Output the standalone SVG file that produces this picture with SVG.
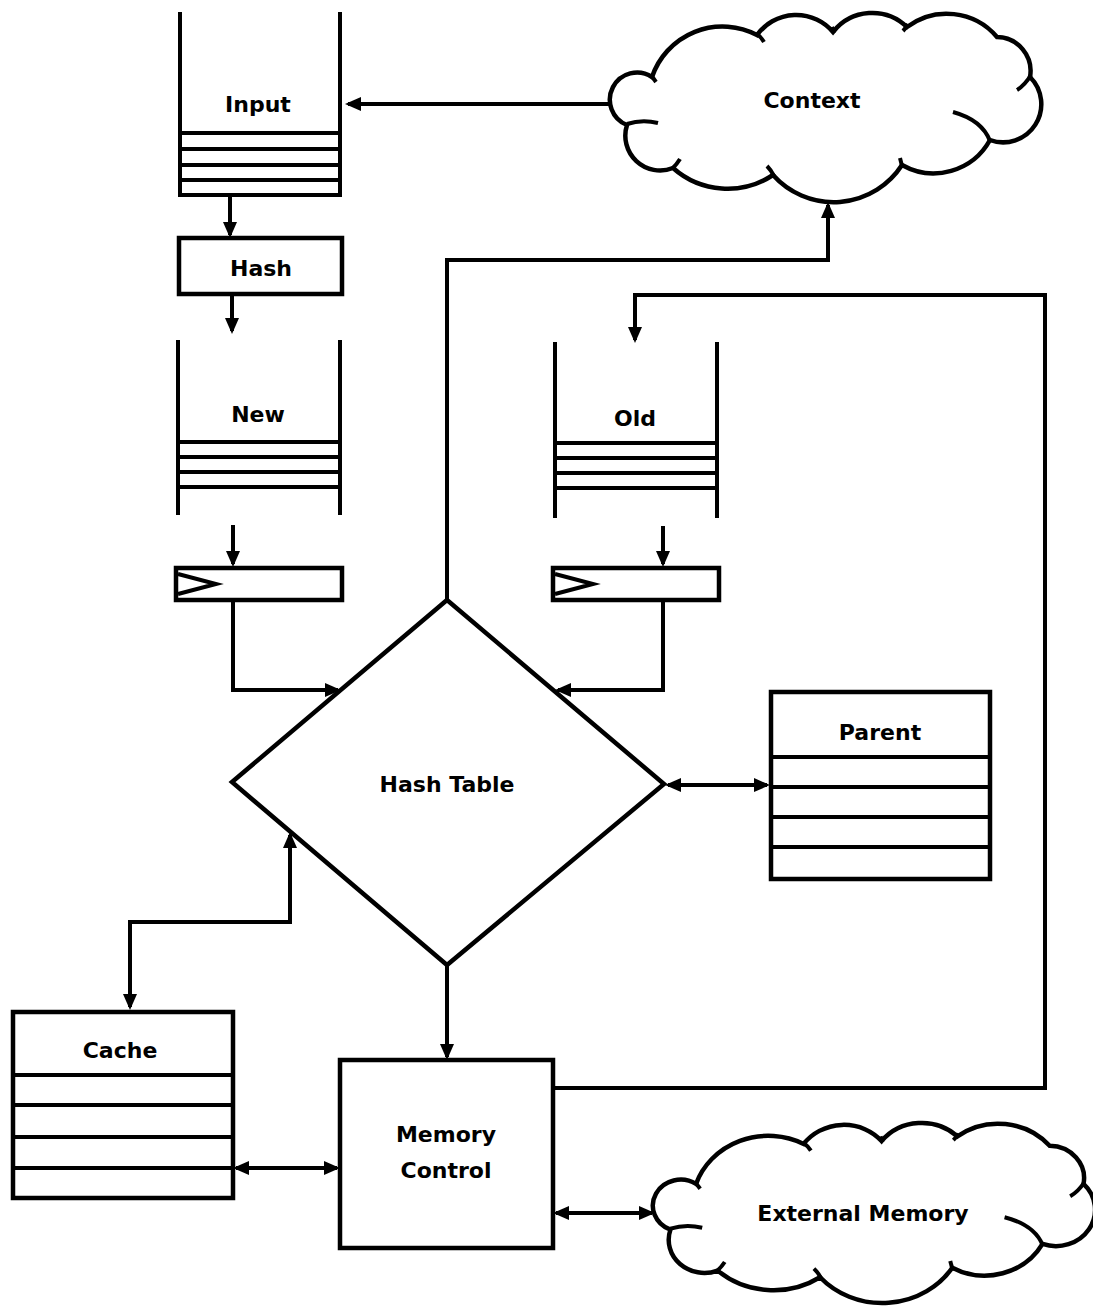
<svg xmlns="http://www.w3.org/2000/svg" width="1093" height="1308" viewBox="0 0 1093 1308">
<style>
.s{fill:none;stroke:#000;stroke-width:4}
.b{fill:#fff;stroke:#000;stroke-width:4.5}
.c{fill:none;stroke:#000;stroke-width:4}
.t{font-family:"DejaVu Sans","Liberation Sans",sans-serif;font-weight:bold;font-size:22px;text-anchor:middle;fill:#000}
.cl{fill:#fff;stroke:#000;stroke-width:4.5;vector-effect:non-scaling-stroke}
.tail{fill:none;stroke:#000;stroke-width:4;vector-effect:non-scaling-stroke}
</style>
<defs>
<marker id="ah" viewBox="0 0 16 14" refX="13" refY="7" markerWidth="16" markerHeight="14" markerUnits="userSpaceOnUse" orient="auto-start-reverse">
<path d="M0,0 L16,7 L0,14 z" fill="#000"/>
</marker>
<g id="cloudShape">
<path class="cl" d="M627,125 A27.2,27.2 0 1 1 652,77 A74.4,74.4 0 0 1 757,35 A48.3,48.3 0 0 1 833,32 A49.9,49.9 0 0 1 907,27 A66,66 0 0 1 997,37 A34,34 0 0 1 1030,77 A38.2,38.2 0 0 1 990,140 A64.4,64.4 0 0 1 902,165 A81.4,81.4 0 0 1 773,175 A82.3,82.3 0 0 1 673,168 A34.8,34.8 0 0 1 627,125 Z"/>
<path class="tail" d="M627,124 Q642,119 658,123"/>
<path class="tail" d="M651,75 L656,82"/>
<path class="tail" d="M756,33 Q761,37 764,42"/>
<path class="tail" d="M832,27 L834,33"/>
<path class="tail" d="M908,24 Q906,28 903,31"/>
<path class="tail" d="M1031,75 Q1025,85 1017,90"/>
<path class="tail" d="M953,112 Q982,120 990,141"/>
<path class="tail" d="M902,166 L900,158"/>
<path class="tail" d="M774,176 Q771,170 767,166"/>
<path class="tail" d="M672,169 Q677,164 680,159"/>
</g>
</defs>

<g id="connectors">
<line class="c" x1="612" y1="104" x2="348" y2="104" marker-end="url(#ah)"/>
<line class="c" x1="230" y1="195" x2="230" y2="235" marker-end="url(#ah)"/>
<line class="c" x1="232" y1="295" x2="232" y2="331" marker-end="url(#ah)"/>
<line class="c" x1="233" y1="525" x2="233" y2="564" marker-end="url(#ah)"/>
<line class="c" x1="663" y1="526" x2="663" y2="564" marker-end="url(#ah)"/>
<polyline class="c" points="233,600 233,690 338,690" marker-end="url(#ah)"/>
<polyline class="c" points="663,600 663,690 558,690" marker-end="url(#ah)"/>
<polyline class="c" points="447,600 447,260 828,260 828,205" marker-end="url(#ah)"/>
<polyline class="c" points="553,1088 1045,1088 1045,295 635,295 635,340" marker-end="url(#ah)"/>
<line class="c" x1="668" y1="785" x2="767" y2="785" marker-start="url(#ah)" marker-end="url(#ah)"/>
<polyline class="c" points="130,1007 130,922 290,922 290,835" marker-start="url(#ah)" marker-end="url(#ah)"/>
<line class="c" x1="447" y1="965" x2="447" y2="1057" marker-end="url(#ah)"/>
<line class="c" x1="236" y1="1168" x2="337" y2="1168" marker-start="url(#ah)" marker-end="url(#ah)"/>
<line class="c" x1="556" y1="1213" x2="652" y2="1213" marker-start="url(#ah)" marker-end="url(#ah)"/>
</g>

<g id="input">
<path class="s" d="M180,12 V195 M340,12 V195 M180,133 H340 M180,149 H340 M180,165 H340 M180,180 H340 M178,195 H342"/>
<text class="t" x="258" y="112">Input</text>
</g>

<g id="hash">
<rect class="b" x="179" y="238" width="163" height="56"/>
<text class="t" x="261" y="276">Hash</text>
</g>

<g id="new">
<path class="s" d="M178,340 V515 M340,340 V515 M178,442 H340 M178,457 H340 M178,472 H340 M178,487 H340"/>
<text class="t" x="258" y="422">New</text>
</g>

<g id="new-reg">
<rect class="b" x="176" y="568" width="166" height="32"/>
<polyline class="s" points="178,574 216,584 178,594"/>
</g>

<g id="old">
<path class="s" d="M555,342 V518 M717,342 V518 M555,443 H717 M555,458 H717 M555,473 H717 M555,488 H717"/>
<text class="t" x="635" y="426">Old</text>
</g>

<g id="old-reg">
<rect class="b" x="553" y="568" width="166" height="32"/>
<polyline class="s" points="555,574 593,584 555,594"/>
</g>

<g id="hash-table">
<polygon class="b" points="447,600 664,784 447,965 232,782"/>
<text class="t" x="447" y="792">Hash Table</text>
</g>

<g id="context">
<use href="#cloudShape"/>
<text class="t" x="812" y="108">Context</text>
</g>

<g id="parent">
<rect class="b" x="771" y="692" width="219" height="187"/>
<path class="s" d="M771,757 H990 M771,787 H990 M771,817 H990 M771,847 H990"/>
<text class="t" x="880" y="740">Parent</text>
</g>

<g id="cache">
<rect class="b" x="13" y="1012" width="220" height="186"/>
<path class="s" d="M13,1075 H233 M13,1105 H233 M13,1137 H233 M13,1168 H233"/>
<text class="t" x="120" y="1058">Cache</text>
</g>

<g id="memory-control">
<rect class="b" x="340" y="1060" width="213" height="188"/>
<text class="t" x="446" y="1142">Memory</text>
<text class="t" x="446" y="1178">Control</text>
</g>

<g id="external-memory">
<use href="#cloudShape" transform="translate(653,1123) scale(1.025,0.952) translate(-610,-13)"/>
<text class="t" x="863" y="1221">External Memory</text>
</g>
</svg>
